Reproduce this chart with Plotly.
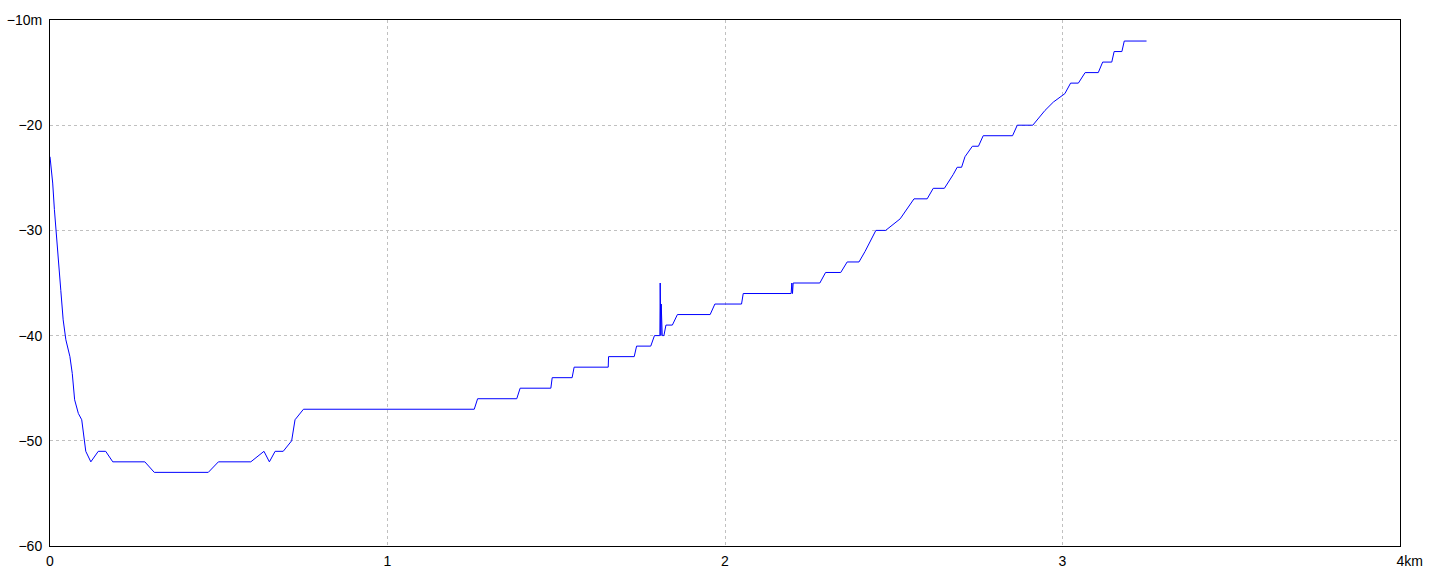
import plotly.graph_objects as go

# Distance along profile (km) and depth (m)
distance_km = [
    0.000, 0.002, 0.008, 0.013, 0.020, 0.025, 0.032, 0.039, 0.047, 0.059,
    0.066, 0.073, 0.084, 0.094, 0.102, 0.106, 0.121, 0.143, 0.165, 0.186,
    0.281, 0.309, 0.469, 0.499, 0.595, 0.634, 0.650, 0.667, 0.691, 0.716,
    0.726, 0.751, 1.257, 1.267, 1.383, 1.393, 1.484, 1.488, 1.547, 1.553,
    1.654, 1.655, 1.731, 1.738, 1.780, 1.791, 1.807, 1.808, 1.810, 1.811,
    1.814, 1.819, 1.825, 1.844, 1.859, 1.956, 1.970, 2.049, 2.054, 2.196,
    2.198, 2.200, 2.202, 2.281, 2.298, 2.343, 2.362, 2.397, 2.415, 2.447,
    2.476, 2.519, 2.560, 2.599, 2.617, 2.650, 2.676, 2.688, 2.701, 2.711,
    2.733, 2.751, 2.765, 2.852, 2.866, 2.912, 2.948, 2.973, 3.007, 3.024,
    3.047, 3.067, 3.106, 3.119, 3.146, 3.153, 3.176, 3.183, 3.249,
]
depth_m = [
    -23.0, -23.5, -25.5, -28.0, -30.6, -33.1, -35.7, -38.5, -40.4, -42.0,
    -43.6, -46.1, -47.4, -48.0, -49.9, -51.0, -52.0, -51.0, -51.0, -52.0,
    -52.0, -53.0, -53.0, -52.0, -52.0, -51.0, -52.0, -51.0, -51.0, -50.0,
    -48.0, -47.0, -47.0, -46.0, -46.0, -45.0, -45.0, -44.0, -44.0, -43.0,
    -43.0, -42.0, -42.0, -41.0, -41.0, -40.0, -40.0, -35.0, -40.0, -37.0,
    -40.0, -40.0, -39.0, -39.0, -38.0, -38.0, -37.0, -37.0, -36.0, -36.0,
    -35.0, -36.0, -35.0, -35.0, -34.0, -34.0, -33.0, -33.0, -32.0, -30.0,
    -30.0, -28.9, -27.0, -27.0, -26.0, -26.0, -24.7, -24.0, -24.0, -23.0,
    -22.0, -22.0, -21.0, -21.0, -20.0, -20.0, -18.6, -17.8, -17.0, -16.0,
    -16.0, -15.0, -15.0, -14.0, -14.0, -13.0, -13.0, -12.0, -12.0,
]

x_tick_vals = [0, 1, 2, 3, 4]
x_tick_text = ["0", "1", "2", "3", "\u00a0\u00a0\u00a0\u00a0\u00a04km"]
y_tick_vals = [-60, -50, -40, -30, -20, -10]
y_tick_text = ["\u221260", "\u221250", "\u221240", "\u221230", "\u221220", "\u221210m"]

fig = go.Figure()
fig.add_trace(go.Scatter(
    x=distance_km, y=depth_m, mode="lines",
    line=dict(color="#0000ff", width=1),
    hoverinfo="x+y", showlegend=False,
))

axis_common = dict(
    showline=True, linecolor="#000000", linewidth=1, mirror=True,
    showgrid=True, gridcolor="#c0c0c0", gridwidth=1, griddash="3px,3px",
    zeroline=False, ticks="", ticklen=0, tickmode="array", automargin=False,
    tickfont=dict(family="Liberation Sans, Arial, sans-serif", size=14, color="#000000"),
)

fig.update_xaxes(range=[0, 4], tickvals=x_tick_vals, ticktext=x_tick_text,
                 ticklabelstandoff=2, **axis_common)
fig.update_yaxes(range=[-60, -10], tickvals=y_tick_vals, ticktext=y_tick_text,
                 ticklabelstandoff=4, **axis_common)

fig.update_layout(
    width=1440, height=576,
    margin=dict(l=50, r=40, t=20, b=30, pad=0),
    paper_bgcolor="#ffffff", plot_bgcolor="#ffffff",
    font=dict(family="Liberation Sans, Arial, sans-serif", size=14, color="#000000"),
)

# remove the default page margin so the figure fills the window exactly
fig.write_html("out.html", config={"displayModeBar": False},
               post_script="document.body.style.margin='0';")
